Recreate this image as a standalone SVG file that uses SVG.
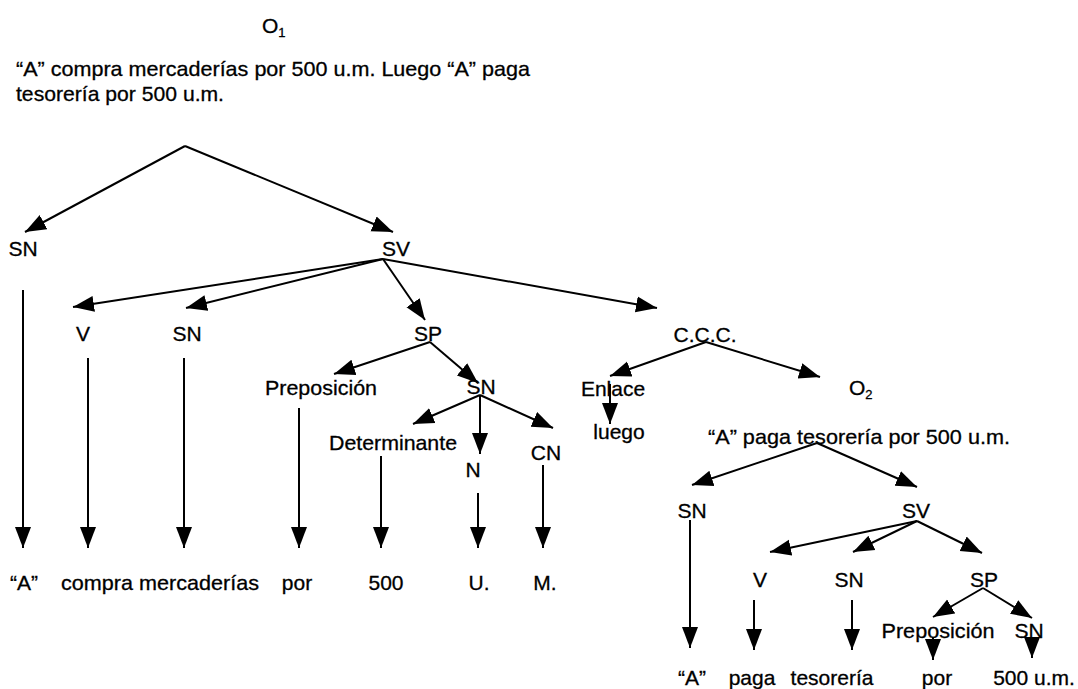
<svg xmlns="http://www.w3.org/2000/svg" width="1078" height="689" viewBox="0 0 1078 689">
<defs>
<marker id="ah" markerUnits="userSpaceOnUse" markerWidth="22" markerHeight="18" refX="21" refY="8" orient="auto" viewBox="0 0 22 16">
<path d="M0,0 L21,8 L0,16 z" fill="#000"/>
</marker>
<style>
text{font-family:"Liberation Sans",Arial,sans-serif;font-size:21px;fill:#000;stroke:#000;stroke-width:0.3}
.m{text-anchor:middle}
.sub{font-size:13px}
#connectors line{stroke:#000;stroke-width:2}
#connectors .a{marker-end:url(#ah)}
</style>
</defs>
<rect width="1078" height="689" fill="#fff"/>
<g id="connectors">
<line class="a" x1="185" y1="146" x2="25" y2="232"/>
<line class="a" x1="185" y1="146" x2="393" y2="232"/>
<line class="a" x1="23" y1="290" x2="23" y2="548"/>
<line class="a" x1="383" y1="259" x2="73" y2="307"/>
<line class="a" x1="383" y1="259" x2="186" y2="308"/>
<line class="a" x1="383" y1="259" x2="425" y2="320"/>
<line class="a" x1="383" y1="259" x2="657" y2="308"/>
<line class="a" x1="88" y1="358" x2="88" y2="548"/>
<line class="a" x1="184" y1="358" x2="184" y2="548"/>
<line class="a" x1="430" y1="342" x2="334" y2="374"/>
<line class="a" x1="430" y1="342" x2="478" y2="383"/>
<line class="a" x1="299" y1="408" x2="299" y2="548"/>
<line class="a" x1="480" y1="395" x2="413" y2="424"/>
<line class="a" x1="480" y1="395" x2="480" y2="454"/>
<line class="a" x1="480" y1="395" x2="553" y2="428"/>
<line class="a" x1="381" y1="456" x2="381" y2="548"/>
<line class="a" x1="478" y1="493" x2="478" y2="548"/>
<line class="a" x1="543" y1="465" x2="543" y2="548"/>
<line class="a" x1="706" y1="342" x2="610" y2="376"/>
<line class="a" x1="706" y1="342" x2="820" y2="377"/>
<line class="a" x1="610" y1="384" x2="610" y2="424"/>
<line class="a" x1="817" y1="443" x2="692" y2="485"/>
<line class="a" x1="817" y1="443" x2="917" y2="487"/>
<line class="a" x1="690" y1="520" x2="690" y2="648"/>
<line class="a" x1="917" y1="521" x2="770" y2="552"/>
<line class="a" x1="917" y1="521" x2="853" y2="552"/>
<line class="a" x1="917" y1="521" x2="982" y2="553"/>
<line class="a" x1="754" y1="600" x2="754" y2="650"/>
<line class="a" x1="852" y1="600" x2="852" y2="650"/>
<line class="a" x1="983" y1="588" x2="933" y2="617"/>
<line class="a" x1="983" y1="588" x2="1032" y2="618"/>
<line class="a" x1="933" y1="637" x2="933" y2="660"/>
<line class="a" x1="1032" y1="638" x2="1032" y2="658"/>
</g>
<g id="title">
<text x="262" y="33">O<tspan class="sub" dy="4">1</tspan></text>
<text x="16" y="76" textLength="514" lengthAdjust="spacingAndGlyphs">“A” compra mercaderías por 500 u.m. Luego “A” paga</text>
<text x="16" y="101" textLength="208" lengthAdjust="spacingAndGlyphs">tesorería por 500 u.m.</text>
</g>
<g id="n-sn1"><text class="m" x="23" y="256">SN</text></g>
<g id="n-sv1"><text class="m" x="396" y="256">SV</text></g>
<g id="n-v1"><text class="m" x="83" y="341">V</text></g>
<g id="n-sn2"><text class="m" x="187" y="341">SN</text></g>
<g id="n-sp1"><text class="m" x="428" y="341">SP</text></g>
<g id="n-ccc"><text class="m" x="705" y="342">C.C.C.</text></g>
<g id="n-prep1"><text class="m" x="321" y="395" textLength="112" lengthAdjust="spacingAndGlyphs">Preposición</text></g>
<g id="n-sn3"><text class="m" x="481" y="394">SN</text></g>
<g id="n-det"><text class="m" x="393" y="450" textLength="128" lengthAdjust="spacingAndGlyphs">Determinante</text></g>
<g id="n-n"><text class="m" x="473" y="477">N</text></g>
<g id="n-cn"><text class="m" x="546" y="460">CN</text></g>
<g id="w-a1"><text class="m" x="24" y="590">“A”</text></g>
<g id="w-compra"><text x="61" y="590" textLength="198" lengthAdjust="spacingAndGlyphs">compra mercaderías</text></g>
<g id="w-por1"><text class="m" x="297" y="590">por</text></g>
<g id="w-500"><text class="m" x="386" y="590">500</text></g>
<g id="w-u"><text class="m" x="479" y="590">U.</text></g>
<g id="w-m"><text class="m" x="545" y="590">M.</text></g>
<g id="n-enlace"><text class="m" x="613" y="396">Enlace</text></g>
<g id="w-luego"><text class="m" x="619" y="439">luego</text></g>
<g id="n-o2"><text x="849" y="395">O<tspan class="sub" dy="4">2</tspan></text>
<text x="708" y="444" textLength="302" lengthAdjust="spacingAndGlyphs">“A” paga tesorería por 500 u.m.</text></g>
<g id="n-sn4"><text class="m" x="692" y="518">SN</text></g>
<g id="n-sv2"><text class="m" x="916" y="518">SV</text></g>
<g id="n-v2"><text class="m" x="760" y="587">V</text></g>
<g id="n-sn5"><text class="m" x="849" y="587">SN</text></g>
<g id="n-sp2"><text class="m" x="984" y="587">SP</text></g>
<g id="n-prep2"><text class="m" x="938" y="638" textLength="113" lengthAdjust="spacingAndGlyphs">Preposición</text></g>
<g id="n-sn6"><text class="m" x="1029" y="638">SN</text></g>
<g id="w-a2"><text class="m" x="692" y="685">“A”</text></g>
<g id="w-paga"><text class="m" x="752" y="685">paga</text></g>
<g id="w-tes"><text class="m" x="832" y="685">tesorería</text></g>
<g id="w-por2"><text class="m" x="937" y="685">por</text></g>
<g id="w-500um"><text class="m" x="1034" y="685">500 u.m.</text></g>
</svg>
